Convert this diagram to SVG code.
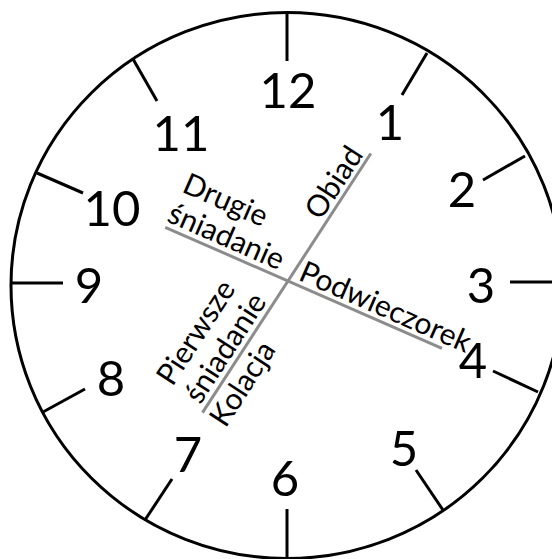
<svg xmlns="http://www.w3.org/2000/svg" width="552" height="559" viewBox="0 0 552 559">
  <style>
    .rim { fill: none; stroke: #000; stroke-width: 3; }
    .tick { stroke: #000; stroke-width: 3; stroke-linecap: butt; }
    .num { font-family: Lato, "Liberation Sans", sans-serif; font-size: 49px; fill: #000; text-anchor: middle; }
    .axis { stroke: #8c8c8c; stroke-width: 3; }
    .lbl { font-family: Lato, "Liberation Sans", sans-serif; font-size: 30px; fill: #000; }
  </style>
  <rect width="552" height="559" fill="#fff"/>
  <g id="dial">
    <ellipse class="rim" cx="287" cy="285.5" rx="276" ry="273"/>
    <line class="tick" x1="287" y1="13" x2="287" y2="61"/>
    <line class="tick" x1="427" y1="53" x2="402" y2="95"/>
    <line class="tick" x1="525" y1="156" x2="483" y2="180"/>
    <line class="tick" x1="565" y1="282" x2="510" y2="282"/>
    <line class="tick" x1="538" y1="392" x2="493" y2="371"/>
    <line class="tick" x1="443" y1="510" x2="416" y2="470"/>
    <line class="tick" x1="287" y1="560" x2="287" y2="509"/>
    <line class="tick" x1="145" y1="520" x2="172" y2="479"/>
    <line class="tick" x1="43" y1="412" x2="85" y2="389"/>
    <line class="tick" x1="11" y1="283" x2="63" y2="283"/>
    <line class="tick" x1="37" y1="173" x2="83" y2="193"/>
    <line class="tick" x1="133" y1="59" x2="157" y2="101"/>
  </g>
  <g id="numbers">
    <text class="num" x="288" y="108">12</text>
    <text class="num" x="390" y="140">1</text>
    <text class="num" x="462" y="207">2</text>
    <text class="num" x="481" y="303">3</text>
    <text class="num" x="473" y="378">4</text>
    <text class="num" x="404" y="466">5</text>
    <text class="num" x="285" y="496">6</text>
    <text class="num" x="188" y="472">7</text>
    <text class="num" x="111" y="396">8</text>
    <text class="num" x="89" y="303">9</text>
    <text class="num" x="112" y="226">10</text>
    <text class="num" x="181" y="151">11</text>
  </g>
  <g id="axis-a" transform="translate(288 281) rotate(-57)">
    <line class="axis" x1="-157" y1="0" x2="152" y2="0"/>
    <text class="lbl" x="68" y="-5">Obiad</text>
    <text class="lbl" x="-152" y="-39">Pierwsze</text>
    <text class="lbl" x="-152" y="-6">śniadanie</text>
    <text class="lbl" x="-158" y="28">Kolacja</text>
  </g>
  <g id="axis-b" transform="translate(288 281) rotate(23.6)">
    <line class="axis" x1="-134" y1="0" x2="168" y2="0"/>
    <text class="lbl" x="-134" y="-39">Drugie</text>
    <text class="lbl" x="-136" y="-6">śniadanie</text>
    <text class="lbl" x="8" y="-5">Podwieczorek</text>
  </g>
</svg>
